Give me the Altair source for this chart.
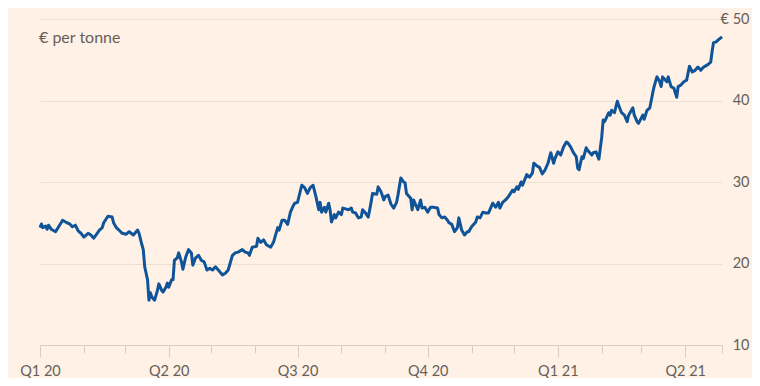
import altair as alt
import pandas as pd

# ---- data (days since 2020-01-01, € per tonne) ----
days = [0, 1, 2, 4, 5, 6, 8, 11, 16, 19, 21, 23, 25, 27, 29, 31, 34, 36, 38, 42,
        44, 45, 48, 51, 52, 54, 57, 58, 61, 63, 66, 69, 70, 72, 73, 74, 76, 77, 78, 79,
        81, 83, 84, 86, 87, 89, 90, 91, 93, 94, 95, 97, 98, 100, 101, 103, 105, 107, 108, 110,
        112, 114, 116, 118, 120, 122, 124, 126, 129, 131, 133, 135, 136, 138, 140, 143, 145, 147, 148, 150,
        153, 154, 156, 158, 160, 163, 165, 168, 169, 171, 173, 175, 177, 179, 180, 182, 185, 187, 189, 191,
        193, 195, 197, 198, 199, 201, 202, 204, 205, 206, 208, 209, 211, 213, 214, 216, 218, 220, 221, 223,
        225, 227, 228, 230, 232, 234, 235, 238, 239, 241, 243, 244, 246, 248, 250, 252, 253, 255, 257, 258,
        259, 262, 263, 264, 267, 269, 270, 272, 274, 276, 278, 281, 282, 284, 286, 288, 289, 291, 293, 295,
        296, 298, 300, 302, 303, 305, 308, 309, 311, 313, 315, 317, 320, 322, 324, 325, 327, 329, 331, 334,
        335, 337, 338, 340, 341, 344, 346, 348, 349, 351, 353, 355, 357, 359, 361, 363, 364, 366, 368, 370,
        372, 373, 375, 377, 379, 380, 381, 383, 384, 386, 387, 390, 391, 393, 395, 397, 398, 399, 402, 403,
        404, 406, 408, 409, 411, 413, 415, 416, 419, 420, 422, 423, 426, 427, 429, 431, 433, 434, 436, 438,
        439, 440, 443, 444, 446, 448, 450, 451, 453, 455, 457, 459, 461, 463, 465, 467, 469, 472, 474, 475,
        476, 478, 479, 482]
prices = [24.4, 24.85, 24.4, 24.6, 24.2, 24.7, 24.2, 23.9, 25.3, 25.0, 24.85, 24.5, 24.7, 24.0, 23.7, 23.25, 23.7, 23.5, 23.1, 24.1,
          24.4, 25.0, 25.8, 25.7, 25.0, 24.4, 23.9, 23.7, 23.6, 23.9, 23.5, 24.1, 23.7, 22.3, 21.7, 19.6, 18.0, 15.5, 16.4, 15.9,
          15.5, 16.7, 17.5, 16.7, 16.5, 17.1, 17.6, 17.1, 18.0, 18.0, 20.4, 20.7, 21.3, 20.2, 19.3, 20.8, 21.7, 21.3, 19.8, 20.7,
          21.0, 20.4, 20.2, 19.2, 19.4, 19.2, 19.6, 19.2, 18.6, 18.8, 19.2, 20.4, 21.0, 21.3, 21.4, 21.7, 21.4, 21.3, 21.0, 22.0,
          22.1, 23.1, 22.6, 22.9, 22.3, 22.0, 22.6, 24.4, 24.1, 25.3, 25.3, 24.8, 26.3, 27.1, 27.4, 27.5, 29.6, 29.3, 28.6, 29.3,
          29.6, 28.2, 26.6, 27.5, 26.3, 26.9, 26.3, 27.4, 26.6, 25.1, 26.0, 25.6, 26.3, 26.0, 26.8, 26.7, 26.6, 26.8, 26.3, 26.2,
          25.6, 25.7, 26.6, 26.2, 25.7, 27.5, 28.6, 28.5, 29.4, 28.8, 27.8, 28.2, 28.4, 27.3, 26.8, 27.5, 28.4, 30.5, 30.0, 29.9,
          28.6, 28.0, 26.6, 27.8, 26.6, 27.8, 26.8, 26.9, 26.3, 26.9, 26.9, 26.8, 26.0, 25.6, 25.7, 25.3, 25.0, 24.8, 23.9, 24.4,
          25.6, 24.1, 23.5, 23.9, 23.9, 24.5, 25.1, 25.7, 25.6, 26.3, 26.2, 26.2, 27.4, 26.9, 27.5, 26.8, 27.5, 27.8, 28.2, 29.0,
          28.8, 29.4, 29.1, 30.0, 29.6, 30.9, 30.6, 31.1, 32.3, 32.0, 31.8, 31.0, 31.5, 32.3, 33.6, 32.3, 32.9, 33.7, 33.3, 34.3,
          34.9, 34.8, 34.3, 33.6, 33.1, 31.7, 31.5, 33.1, 32.9, 34.2, 33.9, 33.3, 33.6, 33.7, 32.8, 35.5, 37.6, 37.4, 38.5, 38.2,
          38.8, 38.5, 39.9, 39.4, 38.5, 38.2, 37.4, 38.2, 39.1, 38.2, 37.4, 37.2, 38.2, 37.7, 38.8, 39.1, 40.9, 41.7, 42.9, 42.3,
          41.7, 42.9, 42.3, 42.9, 41.7, 41.5, 40.4, 41.7, 41.9, 42.3, 42.5, 44.2, 43.5, 43.7, 44.1, 43.7, 44.1, 44.4, 44.7, 46.0,
          47.1, 47.2, 47.4, 47.8]

y_ticks = [10, 20, 30, 40, 50]
month_ticks = [(2020, m) for m in range(1, 13)] + [(2021, m) for m in range(1, 5)]
quarter_ticks = [(2020, 1), (2020, 4), (2020, 7), (2020, 10), (2021, 1), (2021, 4)]
domain_start = (2020, 1, 1)
domain_end = (2021, 4, 27)
unit_label = ["€ per tonne"]

# ---- styling ----
BG = "#FFF1E5"
LINE = "#0F5499"
GRID = "#EBDFD4"
TICK = "#D9CEC4"
TEXT = "#66605C"
FONT = "Lato"

start = pd.Timestamp("2020-01-01")
df = pd.DataFrame({
    "date": [start + pd.Timedelta(days=d) for d in days],
    "price": prices,
})

x_scale = alt.Scale(domain=[alt.DateTime(year=domain_start[0], month=domain_start[1], date=domain_start[2]),
                            alt.DateTime(year=domain_end[0], month=domain_end[1], date=domain_end[2])])
y_scale = alt.Scale(domain=[y_ticks[0], y_ticks[-1]], nice=False, zero=False)

q_axis = alt.Axis(
    orient="bottom",
    values=[alt.DateTime(year=y, month=m, date=1) for y, m in quarter_ticks],
    labelExpr="'Q' + (floor(month(datum.value) / 3) + 1) + ' ' + timeFormat(datum.value, '%y')",
    grid=False, domain=True, domainColor=TICK, domainWidth=1,
    ticks=True, tickSize=12, tickColor=TICK, tickWidth=1,
    labelFlush=False, labelOverlap=False, labelPadding=7,
    labelFont=FONT, labelFontSize=14.5, labelColor=TEXT, title=None,
)
m_axis = alt.Axis(
    orient="bottom",
    values=[alt.DateTime(year=y, month=m, date=1) for y, m in month_ticks]
    + [alt.DateTime(year=domain_end[0], month=domain_end[1], date=domain_end[2])],
    labels=False, grid=False, domain=False,
    ticks=True, tickSize=8, tickColor=TICK, tickWidth=1, title=None,
)
y_axis = alt.Axis(
    orient="right", values=y_ticks,
    labelExpr="datum.value == 50 ? '€ 50' : datum.label",
    grid=True, gridColor=GRID, gridWidth=1,
    domain=False, ticks=False,
    labelAlign="right", labelBaseline="middle", labelPadding=27,
    labelFont=FONT, labelFontSize=14.5, labelColor=TEXT, title=None,
)

base = alt.Chart(df)

minor = base.mark_line(opacity=0).encode(
    x=alt.X("date:T", scale=x_scale, axis=m_axis),
    y=alt.Y("price:Q", scale=y_scale, axis=y_axis),
)

line = base.mark_line(color=LINE, strokeWidth=3, strokeJoin="round").encode(
    x=alt.X("date:T", scale=x_scale, axis=q_axis),
    y=alt.Y("price:Q", scale=y_scale, axis=y_axis),
)

label = alt.Chart(pd.DataFrame({"t": unit_label})).mark_text(
    align="left", baseline="alphabetic", font=FONT, fontSize=16, color=TEXT
).encode(text="t:N", x=alt.value(-1), y=alt.value(24))

chart = alt.layer(minor, line, label).resolve_axis(x="independent").properties(
    width=682, height=326,
    autosize=alt.AutoSizeParams(type="none"),
    padding={"left": 32, "top": 11, "right": 30, "bottom": 33},
    background=BG,
).configure_view(stroke=None)

chart.save("out.html", embed_options={"renderer": "svg", "actions": False})
